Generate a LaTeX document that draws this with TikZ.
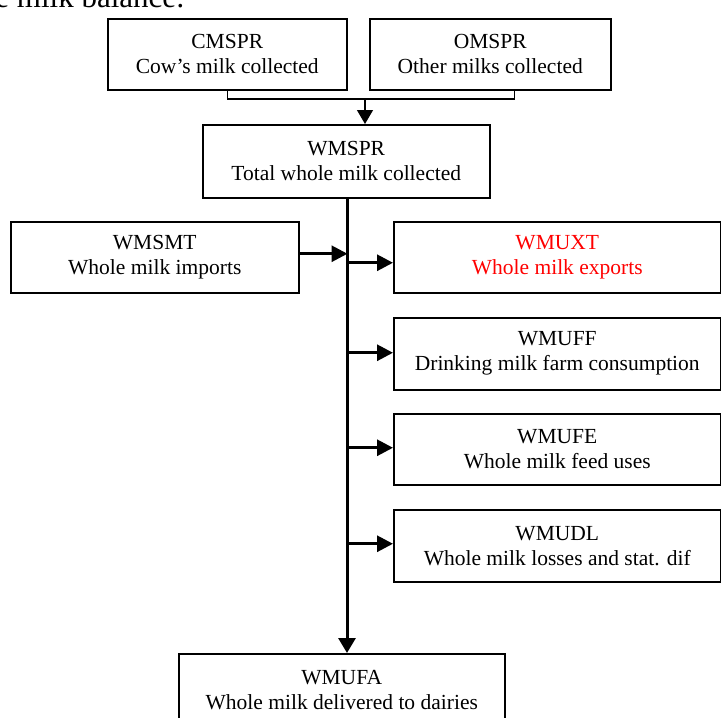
\documentclass[tikz,border=0pt]{standalone}
\usepackage{fontspec}
\setmainfont{Liberation Serif}
\usetikzlibrary{arrows.meta,calc}
\begin{document}
\begin{tikzpicture}[x=1pt,y=-1pt,
  box/.style={draw,line width=1.5pt,align=center,inner sep=0pt,anchor=north west,
    font=\fontsize{21.5}{25}\selectfont},
  trunkline/.style={line width=3pt,-{Triangle[length=15pt,width=17pt]}},
  harrow/.style={line width=3pt,-{Triangle[length=16pt,width=16pt]}},
  bracket/.style={line width=1.3pt},
  toparrow/.style={line width=1.3pt,-{Triangle[length=14pt,width=16pt]}}]
\useasboundingbox (0,0) rectangle (721,718);
\node[anchor=base east,inner sep=0pt,font=\fontsize{31}{33}\selectfont] (title) at (185,7) {e milk balance:};
\node[box,minimum width=239pt,minimum height=71pt] (cmspr) at (107,18) {CMSPR\\Cow’s milk collected};
\node[box,minimum width=241pt,minimum height=71pt] (omspr) at (369,18) {OMSPR\\Other milks collected};
\node[box,minimum width=287pt,minimum height=73pt] (wmspr) at (202,124) {WMSPR\\Total whole milk collected};
\node[box,minimum width=288pt,minimum height=71pt] (wmsmt) at (10,221) {WMSMT\\Whole milk imports};
\node[box,minimum width=327pt,minimum height=71pt,text=red] (wmuxt) at (393,221) {WMUXT\\Whole milk exports};
\node[box,minimum width=327pt,minimum height=72pt] (wmuff) at (393,317) {WMUFF\\Drinking milk farm consumption};
\node[box,minimum width=327pt,minimum height=71pt] (wmufe) at (393,413) {WMUFE\\Whole milk feed uses};
\node[box,minimum width=327pt,minimum height=72pt] (wmudl) at (393,509) {WMUDL\\Whole milk losses and stat. dif};
\node[box,minimum width=326pt,minimum height=72pt] (wmufa) at (178,653) {WMUFA\\Whole milk delivered to dairies};
% bracket joining the two sources
\coordinate (join) at (365,99);
\draw[bracket] (cmspr.south) -- (cmspr.south |- join) -- ($(omspr.south |- join)+(24,0)$) -- ($(omspr.south)+(24,0)$);
\draw[toparrow] (join) -- (join |- wmspr.north);
% trunk
\coordinate (trunk) at (347,197);
\draw[trunkline] (trunk) -- (trunk |- wmufa.north);
% side arrows
\draw[harrow] ([yshift=3.5pt]wmsmt.east) -- ++(48,0);
\draw[harrow] ($(wmuxt.west)+(-46,5.5)$) -- ($(wmuxt.west)+(0,5.5)$);
\draw[harrow] ($(wmuff.west)+(-46,-1)$) -- ($(wmuff.west)+(0,-1)$);
\draw[harrow] ($(wmufe.west)+(-46,-1.5)$) -- ($(wmufe.west)+(0,-1.5)$);
\draw[harrow] ($(wmudl.west)+(-46,-2)$) -- ($(wmudl.west)+(0,-2)$);
\end{tikzpicture}
\end{document}
